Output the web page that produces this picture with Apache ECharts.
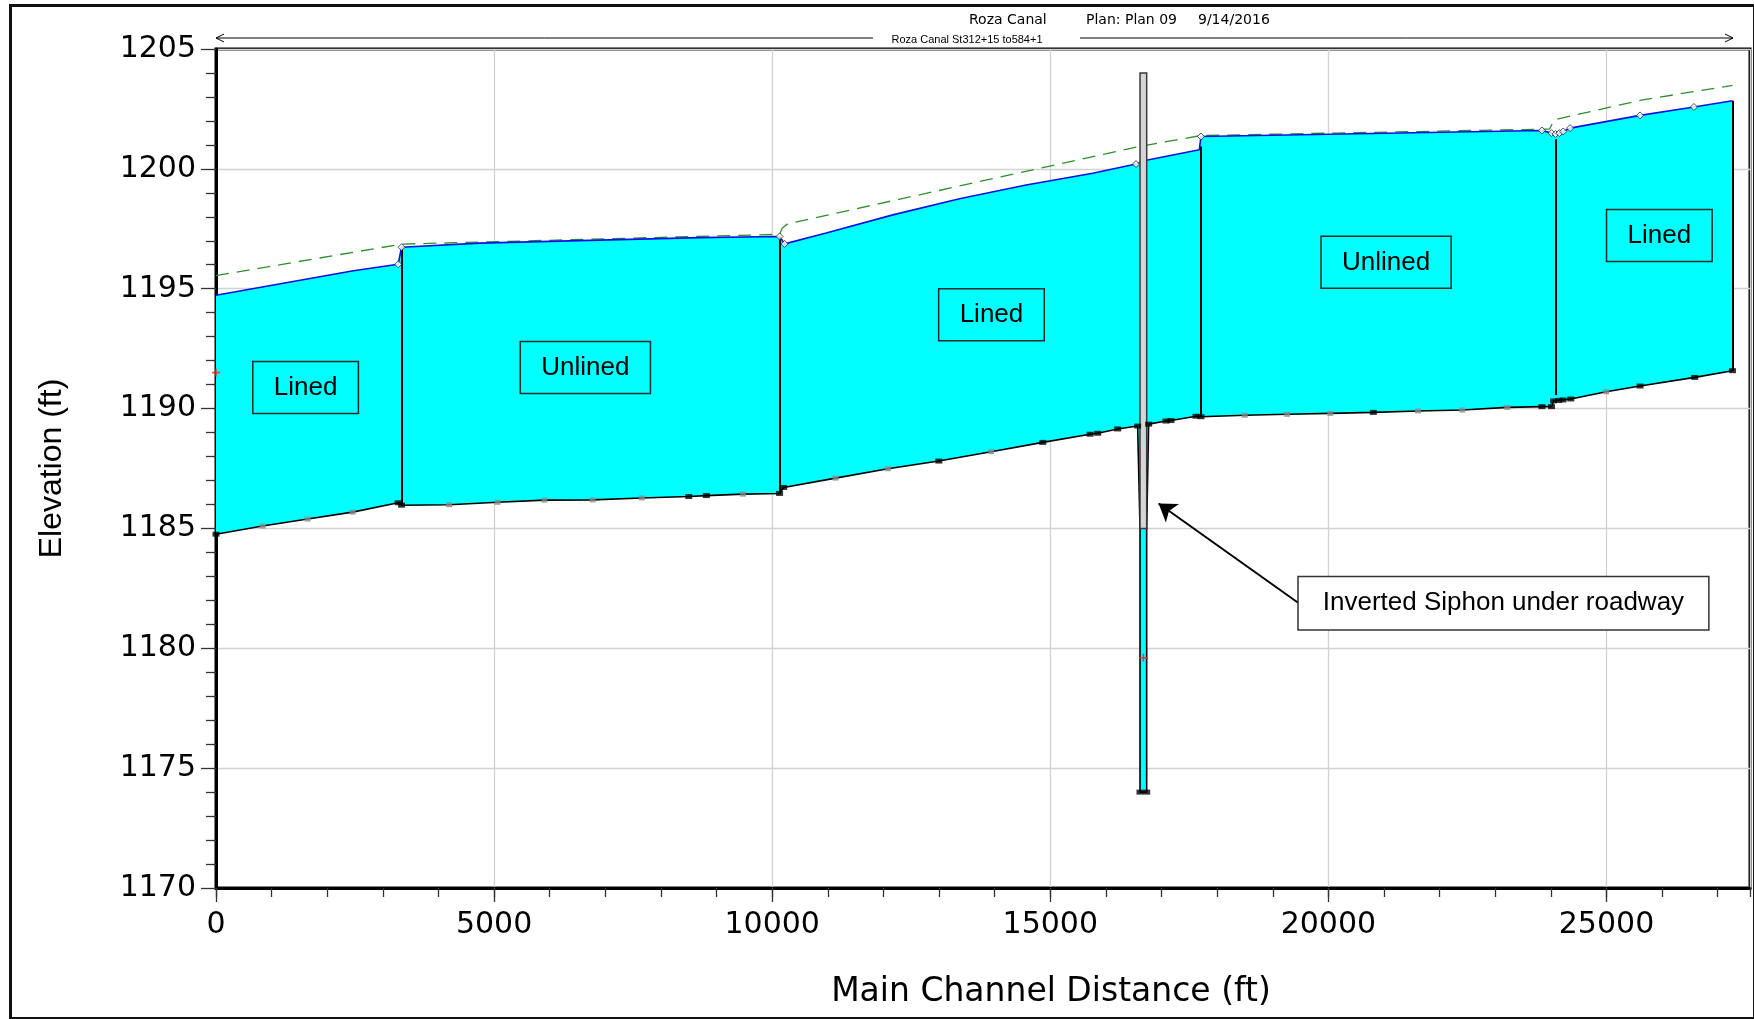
<!DOCTYPE html>
<html><head><meta charset="utf-8">
<script src="https://cdn.jsdelivr.net/npm/echarts@6/dist/echarts.min.js"></script>
<style>html,body{margin:0;padding:0;background:#fff}#c{width:1754px;height:1019px}</style>
</head><body><div id="c"></div>
<script>
// ---------- data (station ft, elevation ft) ----------
const xTickStep = 5000, xMinorStep = 1000, xMin = 0, xMax = 27580;
const yMin = 1170, yMax = 1205, yTickStep = 5;

// Water surface profile
const wsX = [0, 2470, 3275, 3336, 4743, 8696, 10133, 10223, 10971, 12169, 13367, 14565, 15762, 16541, 16750, 17680, 17709, 23839, 24011, 24084, 24153, 24222, 24346, 25604, 26572, 27266];
const wsY = [1194.73, 1195.75, 1196.02, 1196.73, 1196.90, 1197.13, 1197.18, 1196.87, 1197.32, 1198.08, 1198.75, 1199.33, 1199.82, 1200.20, 1200.37, 1200.80, 1201.35, 1201.60, 1201.49, 1201.45, 1201.49, 1201.56, 1201.70, 1202.23, 1202.58, 1202.84];
// cross sections with a water-surface marker (1 = marked)
const wsMarked = [0, 0, 1, 1, 0, 0, 1, 1, 0, 0, 0, 0, 0, 1, 0, 0, 1, 1, 1, 1, 1, 1, 1, 1, 1, 0];

// Energy grade line
const egX = [0, 3336, 10133, 10181, 10282, 16571, 17709, 23977, 24060, 25650, 27266];
const egY = [1195.55, 1196.86, 1197.27, 1197.53, 1197.71, 1200.92, 1201.39, 1201.66, 1202.05, 1202.88, 1203.48];

// Channel bed (ground) profile ; kind: S = surveyed section, I = interpolated section, '' = none
const bedX = [0, 838, 1647, 2456, 3275, 3336, 4192, 5062, 5907, 6771, 7655, 8500, 8816, 9474, 10133, 10205, 11139, 12079, 12996, 13936, 14865, 15715, 15851, 16211, 16570, 16613, 16613, 16733, 16733, 16768, 17080, 17170, 17620, 17709, 18496, 19258, 20033, 20808, 21611, 22407, 23215, 23839, 24011, 24048, 24140, 24218, 24358, 24995, 25604, 26586, 27266];
const bedY = [1184.76, 1185.10, 1185.39, 1185.68, 1186.07, 1185.97, 1185.99, 1186.09, 1186.18, 1186.19, 1186.27, 1186.33, 1186.37, 1186.43, 1186.46, 1186.71, 1187.10, 1187.49, 1187.81, 1188.20, 1188.59, 1188.93, 1188.97, 1189.15, 1189.27, 1185.0, 1174.0, 1174.0, 1185.0, 1189.35, 1189.48, 1189.50, 1189.68, 1189.66, 1189.72, 1189.76, 1189.80, 1189.84, 1189.90, 1189.94, 1190.05, 1190.08, 1190.08, 1190.32, 1190.34, 1190.36, 1190.40, 1190.70, 1190.94, 1191.30, 1191.58];
const bedKind = ['S','I','I','I','S','S','I','I','I','I','I','S','S','I','S','S','I','I','S','I','S','S','S','S','S','','S','S','','S','S','S','S','S','I','I','I','S','I','I','I','S','S','S','S','S','S','I','S','S','S'];

// Reach boundaries (vertical lines)
const boundaryX = [3336, 10133, 17709, 24096, 27266];
const boundaryLow = [1185.97, 1186.46, 1189.66, 1190.57, 1191.58];
const boundaryHigh = [1196.73, 1197.18, 1200.93, 1201.24, 1202.84];

// Inverted siphon structure
const siphonX = [16613, 16733];
const siphonY = [1185.0, 1204.0];

// Red crosses (flagged points)
const flagX = [0, 16673];
const flagY = [1191.5, 1179.6];

// Reach labels
const reachNames = ['Lined', 'Unlined', 'Lined', 'Unlined', 'Lined'];
const reachLabelX = [1611, 6641, 13942, 21037, 25950];
const reachLabelY = [1190.88, 1191.71, 1193.91, 1196.10, 1197.22];

// Callout
const calloutText = 'Inverted Siphon under roadway';
const calloutX = 23147, calloutY = 1181.88;
const arrowX = [19475, 16947];
const arrowY = [1181.87, 1186.04];

const titleMain = ['Roza Canal', 'Plan: Plan 09', '9/14/2016'];
const titleReach = 'Roza Canal St312+15 to584+1';
const xName = 'Main Channel Distance (ft)';
const yName = 'Elevation (ft)';

// ---------- chart ----------
const zip = (a, b) => a.map((v, i) => [v, b[i]]);
const chart = echarts.init(document.getElementById('c'));
const gridL = 216, gridR = 4, gridT = 49, gridB = 131;
const plain = v => String(v);

const option = {
  animation: false,
  backgroundColor: '#fff',
  grid: { left: gridL, right: gridR, top: gridT, bottom: gridB, show: true, borderColor: '#000', borderWidth: 3, containLabel: false },
  xAxis: [{
    type: 'value', min: xMin, max: xMax, interval: xTickStep, position: 'bottom',
    name: xName, nameLocation: 'middle', nameGap: 88,
    nameTextStyle: { fontFamily: 'DejaVu Sans', fontSize: 33, color: '#000', padding: [0, 0, 0, 136] },
    axisLine: { lineStyle: { color: '#000', width: 3 } },
    axisTick: { show: true, inside: false, length: 14, lineStyle: { color: '#333', width: 1.3 } },
    axisLabel: { fontFamily: 'DejaVu Sans', fontSize: 30, color: '#000', margin: 22, showMaxLabel: false, formatter: plain },
    splitLine: { show: true, lineStyle: { color: '#d2d2d2', width: 1.3 } }
  }, {
    type: 'value', min: xMin, max: xMax, interval: xMinorStep, position: 'bottom', gridIndex: 0,
    axisLine: { show: false }, axisLabel: { show: false }, splitLine: { show: false },
    axisTick: { show: true, inside: false, length: 9, lineStyle: { color: '#333', width: 1.3 } }
  }],
  yAxis: {
    type: 'value', min: yMin, max: yMax, interval: yTickStep,
    name: yName, nameLocation: 'middle', nameGap: 148,
    nameTextStyle: { fontFamily: 'Liberation Sans', fontSize: 32, color: '#000' },
    axisLine: { show: true, lineStyle: { color: '#000', width: 3 } },
    axisTick: { show: true, inside: false, length: 15, lineStyle: { color: '#333', width: 1.3 } },
    minorTick: { show: true, splitNumber: 5, length: 10, lineStyle: { color: '#333', width: 1.3 } },
    axisLabel: { fontFamily: 'DejaVu Sans', fontSize: 30, color: '#000', margin: 20, formatter: plain },
    splitLine: { show: true, lineStyle: { color: '#d2d2d2', width: 1.3 } }
  },
  graphic: [
    { type: 'rect', left: 8, top: 3, z: 100, shape: { width: 1744, height: 1013 }, style: { fill: null, stroke: '#111', lineWidth: 3 } },
    { type: 'text', x: 969, y: 20, z: 100, style: { text: titleMain[0], font: '14px "DejaVu Sans"', fill: '#000', textVerticalAlign: 'middle' } },
    { type: 'text', x: 1086, y: 20, z: 100, style: { text: titleMain[1], font: '14px "DejaVu Sans"', fill: '#000', textVerticalAlign: 'middle' } },
    { type: 'text', x: 1198, y: 20, z: 100, style: { text: titleMain[2], font: '14px "DejaVu Sans"', fill: '#000', textVerticalAlign: 'middle' } },
    { type: 'line', z: 100, shape: { x1: 216, y1: 38, x2: 873, y2: 38 }, style: { stroke: '#000', lineWidth: 1 } },
    { type: 'line', z: 100, shape: { x1: 1080, y1: 38, x2: 1733, y2: 38 }, style: { stroke: '#000', lineWidth: 1 } },
    { type: 'polyline', z: 100, shape: { points: [[224, 34], [216, 38], [224, 42]] }, style: { stroke: '#000', lineWidth: 1, fill: null } },
    { type: 'polyline', z: 100, shape: { points: [[1725, 34], [1733, 38], [1725, 42]] }, style: { stroke: '#000', lineWidth: 1, fill: null } },
    { type: 'text', x: 967, y: 40, z: 100, style: { text: titleReach, font: '11px "Liberation Sans"', fill: '#000', textAlign: 'center', textVerticalAlign: 'middle' } }
  ],
  series: [
    { // water body fill
      type: 'custom', silent: true, z: 1, clip: true,
      data: [[wsX[0], wsY[0]]],
      renderItem: function (params, api) {
        const pts = [];
        for (let i = 0; i < wsX.length; i++) pts.push(api.coord([wsX[i], wsY[i]]));
        for (let i = bedX.length - 1; i >= 0; i--) pts.push(api.coord([bedX[i], bedY[i]]));
        return { type: 'polygon', shape: { points: pts }, style: { fill: '#00ffff', stroke: null } };
      }
    },
    { // energy grade line
      type: 'line', z: 3, silent: true, showSymbol: false, data: zip(egX, egY),
      lineStyle: { color: '#2f8f2f', width: 1.3, type: [13, 8] }
    },
    { // water surface
      type: 'line', z: 4, silent: true, showSymbol: false, data: zip(wsX, wsY),
      lineStyle: { color: '#1010e0', width: 1.6 }
    },
    { // bed
      type: 'line', z: 4, silent: true, showSymbol: false, data: zip(bedX, bedY),
      lineStyle: { color: '#000', width: 1.6 }
    },
    { // reach boundaries
      type: 'lines', coordinateSystem: 'cartesian2d', z: 5, silent: true,
      data: boundaryX.map((x, i) => ({ coords: [[x, boundaryLow[i]], [x, boundaryHigh[i]]] })),
      lineStyle: { color: '#000', width: 2, opacity: 1 }
    },
    { // siphon structure
      type: 'custom', silent: true, z: 6,
      data: [[siphonX[0], siphonY[0]]],
      renderItem: function (params, api) {
        const a = api.coord([siphonX[0], siphonY[1]]);
        const b = api.coord([siphonX[1], siphonY[0]]);
        return { type: 'rect', shape: { x: a[0], y: a[1], width: b[0] - a[0], height: b[1] - a[1] },
          style: { fill: '#d6d6d6', stroke: '#3a3a3a', lineWidth: 1.5 } };
      }
    },
    { // interpolated sections
      type: 'scatter', z: 7, silent: true, symbol: 'rect', symbolSize: [6, 5],
      data: bedX.map((x, i) => [x, bedY[i]]).filter((d, i) => bedKind[i] === 'I'),
      itemStyle: { color: '#8a8a8a' }
    },
    { // surveyed sections
      type: 'scatter', z: 7, silent: true, symbol: 'rect', symbolSize: [7, 5],
      data: bedX.map((x, i) => [x, bedY[i]]).filter((d, i) => bedKind[i] === 'S'),
      itemStyle: { color: '#000' }
    },
    { // water surface markers
      type: 'scatter', z: 7, silent: true, symbol: 'diamond', symbolSize: 7,
      data: wsX.map((x, i) => [x, wsY[i]]).filter((d, i) => wsMarked[i] === 1),
      itemStyle: { color: '#fff', borderColor: '#223', borderWidth: 1 }
    },
    { // flags
      type: 'scatter', z: 7, silent: true,
      symbol: 'path://M4,0H6V4H10V6H6V10H4V6H0V4H4Z', symbolSize: 8,
      data: zip(flagX, flagY), itemStyle: { color: '#ff2020' }
    },
    { // reach labels
      type: 'scatter', z: 8, silent: true, symbolSize: 1, itemStyle: { color: 'rgba(0,0,0,0)' },
      data: reachNames.map((n, i) => ({ name: n, value: [reachLabelX[i], reachLabelY[i]] })),
      label: { show: true, position: 'inside', formatter: p => p.name, fontFamily: 'Liberation Sans', fontSize: 26,
        color: '#000', opacity: 1, lineHeight: 26, padding: [13, 21], borderColor: '#1c2c2c', borderWidth: 1.5 }
    },
    { // callout
      type: 'scatter', z: 9, silent: true, symbolSize: 1, itemStyle: { color: 'rgba(0,0,0,0)' },
      data: [{ name: calloutText, value: [calloutX, calloutY] }],
      label: { show: true, position: 'inside', formatter: p => p.name, fontFamily: 'Liberation Sans', fontSize: 26,
        color: '#000', opacity: 1, lineHeight: 26, padding: [13, 24], borderColor: '#333', borderWidth: 1.5, backgroundColor: '#fff' },
      markLine: {
        silent: true, symbol: ['none', 'arrow'], symbolSize: 17, label: { show: false },
        lineStyle: { color: '#000', width: 2, type: 'solid' },
        data: [[{ coord: [arrowX[0], arrowY[0]] }, { coord: [arrowX[1], arrowY[1]] }]]
      }
    }
  ]
};
chart.setOption(option);
</script></body></html>
